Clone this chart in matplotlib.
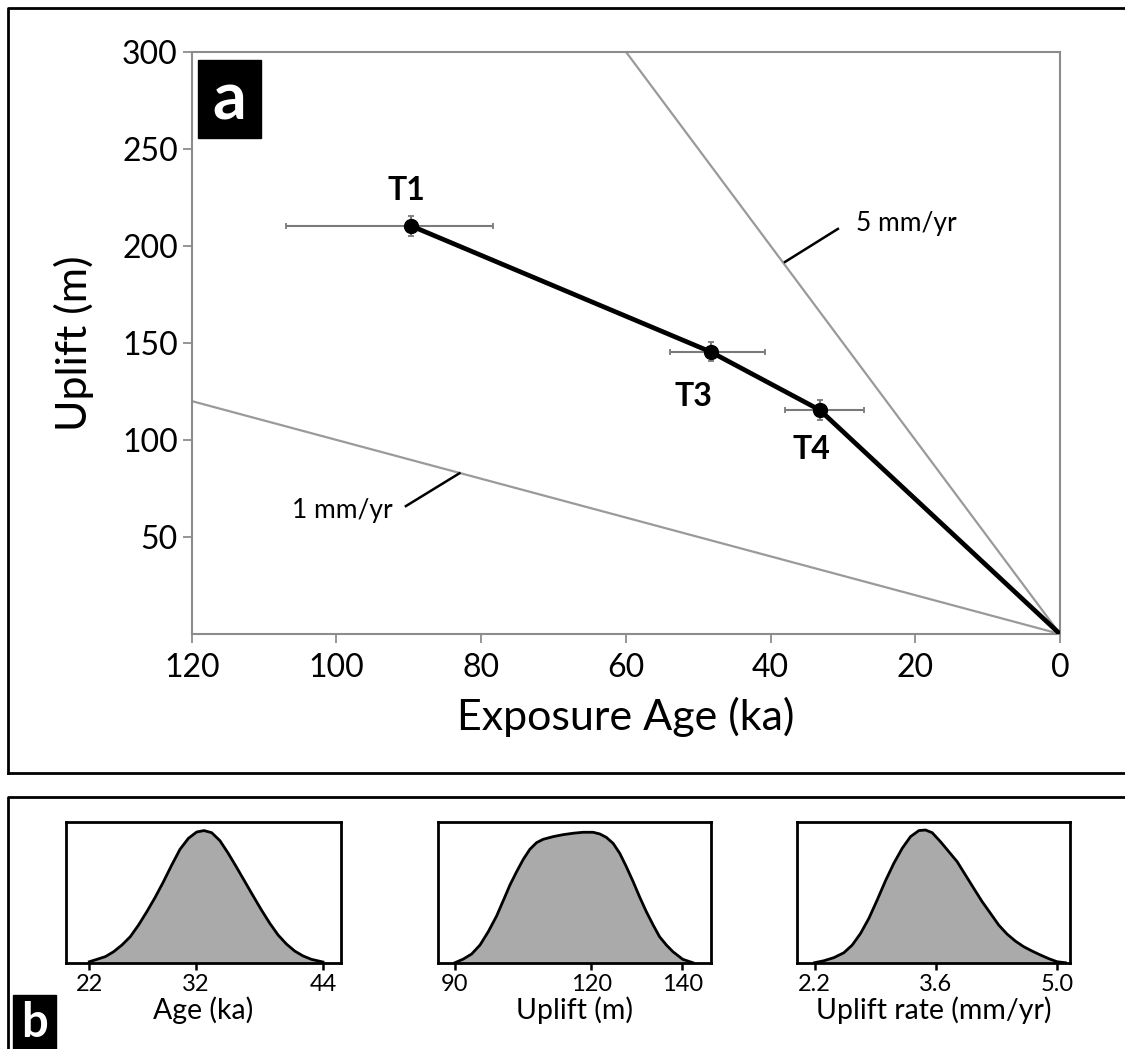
import matplotlib.pyplot as plt
import numpy as np
from matplotlib.lines import Line2D
from matplotlib.patches import Rectangle

plt.rcParams["font.family"] = ["Lato", "DejaVu Sans"]

# panel a data
terrace_names = ["T1", "T3", "T4"]
terrace_age = [89.7, 48.3, 33.2]
terrace_uplift = [210.3, 145.4, 115.4]
age_err_young = [11.4, 7.5, 6.1]
age_err_old = [17.3, 5.6, 4.8]
uplift_err = [5, 5, 5]
ref_rates = [1, 5]
rate_labels = ["1 mm/yr", "5 mm/yr"]

# panel b data (density, as fraction of panel height)
age_x = [22.0, 22.72, 23.5, 24.28, 25.07, 25.85, 26.63, 27.41, 28.2, 28.98,
         29.76, 30.54, 31.33, 32.11, 32.8, 33.52, 34.3, 35.08, 35.87, 36.65,
         37.43, 38.21, 39.0, 39.78, 40.56, 41.34, 42.13, 42.91, 44.0]
age_d = [0.007, 0.024, 0.043, 0.078, 0.126, 0.185, 0.268, 0.363, 0.466, 0.577,
         0.696, 0.808, 0.886, 0.931, 0.941, 0.926, 0.869, 0.779, 0.679, 0.577,
         0.475, 0.375, 0.28, 0.197, 0.133, 0.083, 0.048, 0.024, 0.005]
upl_x = [90.07, 91.9, 93.73, 95.56, 97.38, 99.21, 101.04, 102.13, 103.6, 105.06,
         106.52, 107.98, 109.44, 111.64, 113.83, 116.02, 118.2, 120.4, 121.87,
         123.3, 124.8, 126.26, 127.7, 129.2, 130.6, 132.1, 133.6, 135.0, 136.5,
         137.95, 140.1, 142.3]
upl_d = [0.0, 0.026, 0.062, 0.126, 0.221, 0.333, 0.47, 0.553, 0.648, 0.736,
         0.808, 0.855, 0.879, 0.898, 0.912, 0.922, 0.929, 0.929, 0.917, 0.893,
         0.85, 0.779, 0.684, 0.577, 0.47, 0.363, 0.268, 0.185, 0.126, 0.078,
         0.024, 0.0]
rate_x = [2.2, 2.308, 2.423, 2.538, 2.635, 2.731, 2.827, 2.923, 3.019, 3.115,
          3.212, 3.308, 3.404, 3.481, 3.558, 3.654, 3.75, 3.846, 3.942, 4.038,
          4.135, 4.231, 4.327, 4.423, 4.519, 4.615, 4.712, 4.808, 4.904, 5.0, 5.096]
rate_d = [0.0, 0.014, 0.036, 0.071, 0.126, 0.209, 0.316, 0.447, 0.584, 0.708,
          0.815, 0.898, 0.941, 0.945, 0.926, 0.862, 0.791, 0.72, 0.625, 0.53,
          0.435, 0.352, 0.268, 0.204, 0.154, 0.114, 0.083, 0.055, 0.029, 0.007, 0.0]

W, H = 1125, 1049


def box(l, t, r, b):
    return [l / W, 1 - b / H, (r - l) / W, (b - t) / H]


fig = plt.figure(figsize=(W / 100, H / 100), dpi=100)

# panel frames
frame = dict(color="black", lw=2, transform=fig.transFigure)
fig.add_artist(Line2D([8 / W, 8 / W, 1], [1 - 772.7 / H, 1 - 8 / H, 1 - 8 / H], **frame))
fig.add_artist(Line2D([8 / W, 1], [1 - 772.7 / H, 1 - 772.7 / H], **frame))
fig.add_artist(Line2D([8 / W, 8 / W, 1], [0, 1 - 796.7 / H, 1 - 796.7 / H], **frame))

# ---- panel a ----
ax = fig.add_axes(box(191.7, 51.7, 1060, 634))
gray = "#8c8c8c"
for s in ax.spines.values():
    s.set_color(gray)
    s.set_linewidth(1.5)
ax.tick_params(colors=gray, length=6.5, width=1.3, labelsize=23, labelcolor="black")
ax.tick_params(axis="x", pad=7)
ax.set_xlim(120, 0)
ax.set_ylim(0, 300)
ax.set_xticks([120, 100, 80, 60, 40, 20, 0])
ax.set_yticks([50, 100, 150, 200, 250, 300])

ages = np.array([0, 120])
for r in ref_rates:
    ax.plot(ages, r * ages, color="#9a9a9a", lw=1.6, zorder=1)

ax.errorbar(terrace_age, terrace_uplift, xerr=[age_err_young, age_err_old],
            yerr=uplift_err, fmt="none", ecolor="#7a7a7a", elinewidth=1.5,
            capsize=2.5, capthick=1.3, zorder=2)
ax.plot(terrace_age + [0], terrace_uplift + [0], color="black", lw=3.4, zorder=3)
ax.plot(terrace_age, terrace_uplift, "o", color="black", ms=10, zorder=4)

label_off = [(0.7, 18), (2.4, -22.8), (1.1, -20.6)]
for name, a, u, (dx, dy) in zip(terrace_names, terrace_age, terrace_uplift, label_off):
    ax.text(a + dx, u + dy, name, fontsize=23, fontweight="bold",
            ha="center", va="center")

# leaders for reference lines
ax.plot([90.4, 83.0], [65.9, 82.8], color="black", lw=1.8)
ax.text(92.2, 63.5, rate_labels[0], fontsize=19, ha="right", va="center")
ax.plot([38.0, 30.7], [191.7, 208.7], color="black", lw=1.8)
ax.text(28.2, 211.7, rate_labels[1], fontsize=19, ha="left", va="center")

ax.set_xlabel("Exposure Age (ka)", fontsize=31, labelpad=10)
ax.set_ylabel("Uplift (m)", fontsize=31, labelpad=20)

fig.add_artist(Rectangle((198 / W, 1 - 138 / H), 63 / W, 78 / H,
                         transform=fig.transFigure, color="black"))
fig.text(229.5 / W, 1 - 101 / H, "a", color="white", fontsize=48,
         fontweight="bold", ha="center", va="center")

# ---- panel b ----
small = [
    (66, 341, age_x, age_d, (19.8, 45.7), [22, 32, 44], ["22", "32", "44"], "Age (ka)"),
    (438.3, 711, upl_x, upl_d, (86.4, 146.3), [90, 120, 140], ["90", "120", "140"], "Uplift (m)"),
    (797.3, 1070, rate_x, rate_d, (2.0, 5.15), [2.2, 3.6, 5.0], ["2.2", "3.6", "5.0"], "Uplift rate (mm/yr)"),
]
for l, r, xs, ds, xl, ticks, tl, lab in small:
    bx = fig.add_axes(box(l, 822.3, r, 962.7))
    bx.fill_between(xs, ds, 0, color="#aaaaaa", lw=0)
    bx.plot(xs, ds, color="black", lw=2)
    bx.set_xlim(*xl)
    bx.set_ylim(0, 1)
    bx.set_yticks([])
    bx.set_xticks(ticks)
    bx.set_xticklabels(tl)
    bx.tick_params(axis="x", length=5, width=1.8, labelsize=17, pad=3)
    for s in bx.spines.values():
        s.set_linewidth(2)
    bx.set_xlabel(lab, fontsize=20.5, labelpad=1)

fig.add_artist(Rectangle((13 / W, 0), 43 / W, 54 / H,
                         transform=fig.transFigure, color="black"))
fig.text(34.5 / W, 1 - 1023 / H, "b", color="white", fontsize=34,
         fontweight="bold", ha="center", va="center")

fig.savefig("out.png", dpi=100)
